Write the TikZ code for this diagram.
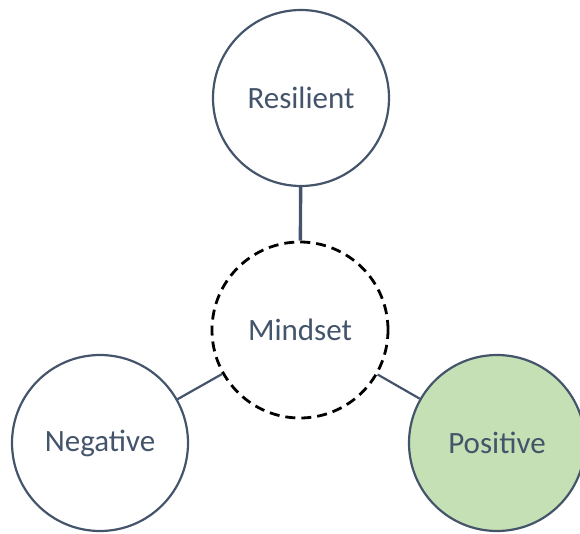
\documentclass[tikz,border=0pt]{standalone}
\usepackage{fontspec}
\setmainfont{Carlito}
\usepackage{xcolor}
\usepackage{tikz}
\usetikzlibrary{positioning}

\definecolor{slate}{HTML}{44546A}
\definecolor{lightgreen}{HTML}{C5E0B4}

\begin{document}
\begin{tikzpicture}[x=1pt,y=1pt,
  bubble/.style={circle,draw=slate,line width=2.2pt,minimum size=176pt,
    text=slate,font=\fontsize{31}{36}\selectfont},
  core/.style={bubble,draw=black,dashed,dash pattern=on 10pt off 6pt,line width=2.8pt}]
\useasboundingbox (0,0) rectangle (580,533);
      \node[bubble] (resilient) at (301,435) {Resilient};
      \node[core] (mindset) at (300,203) {Mindset};
      \node[bubble] (negative) at (100,90) {Negative};
      \node[bubble,fill=lightgreen] (positive) at (497,90) {Positive};
      \draw[slate,line width=3.4pt] (resilient) -- (mindset);
      \draw[slate,line width=2.2pt] (negative) -- (mindset);
      \draw[slate,line width=2.2pt] (positive) -- (mindset);
\end{tikzpicture}
\end{document}
